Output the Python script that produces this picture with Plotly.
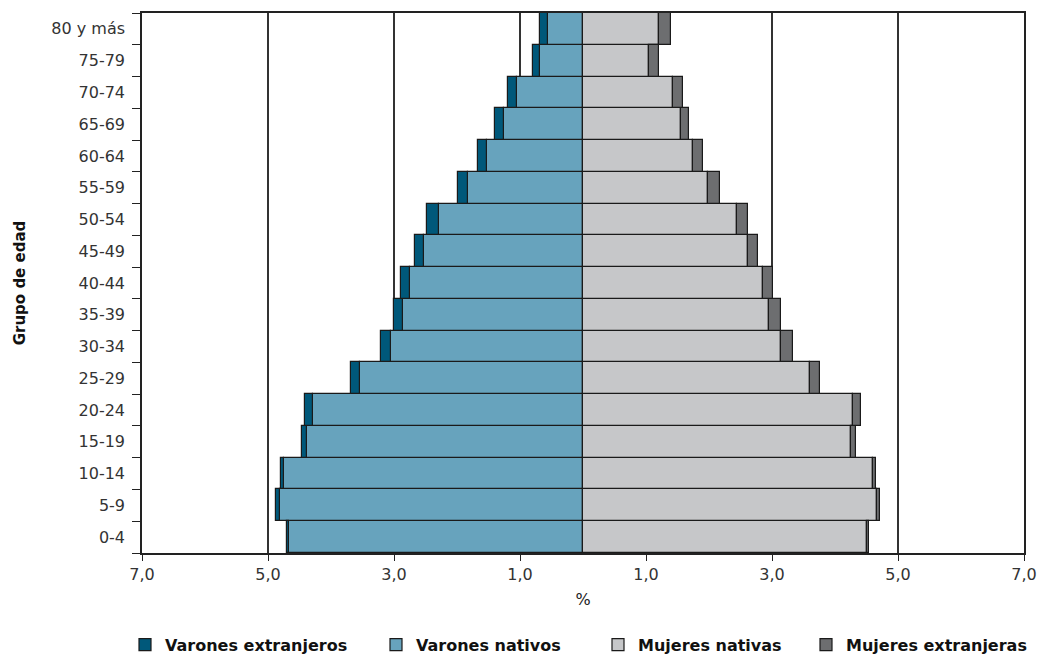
import plotly.graph_objects as go

grupos = ["0-4", "5-9", "10-14", "15-19", "20-24", "25-29", "30-34", "35-39",
          "40-44", "45-49", "50-54", "55-59", "60-64", "65-69", "70-74", "75-79", "80 y más"]

varones_nativos = [4.67, 4.81, 4.75, 4.38, 4.29, 3.54, 3.04, 2.86,
                   2.75, 2.52, 2.29, 1.82, 1.52, 1.25, 1.05, 0.69, 0.56]
varones_extranjeros = [0.03, 0.06, 0.05, 0.08, 0.12, 0.15, 0.17, 0.14,
                       0.14, 0.14, 0.19, 0.16, 0.14, 0.14, 0.14, 0.11, 0.12]
mujeres_nativas = [4.50, 4.67, 4.60, 4.26, 4.28, 3.60, 3.15, 2.96,
                   2.85, 2.62, 2.44, 1.98, 1.74, 1.55, 1.43, 1.05, 1.21]
mujeres_extranjeras = [0.04, 0.05, 0.05, 0.07, 0.14, 0.16, 0.18, 0.18,
                       0.16, 0.16, 0.18, 0.19, 0.16, 0.14, 0.15, 0.16, 0.19]

tick_vals = [-7, -5, -3, -1, 1, 3, 5, 7]
tick_text = ["7,0", "5,0", "3,0", "1,0", "1,0", "3,0", "5,0", "7,0"]

c_vext = "#00587a"
c_vnat = "#67a3bd"
c_mnat = "#c6c7c9"
c_mext = "#6d6e70"
line = dict(color="#1a1a1a", width=1.2)

fig = go.Figure()
fig.add_trace(go.Bar(y=grupos, x=[-v for v in varones_nativos], orientation="h",
                     name="Varones nativos", marker=dict(color=c_vnat, line=line),
                     legend="legend2"))
fig.add_trace(go.Bar(y=grupos, x=[-v for v in varones_extranjeros], orientation="h",
                     name="Varones extranjeros", marker=dict(color=c_vext, line=line),
                     legend="legend"))
fig.add_trace(go.Bar(y=grupos, x=mujeres_nativas, orientation="h",
                     name="Mujeres nativas", marker=dict(color=c_mnat, line=line),
                     legend="legend3"))
fig.add_trace(go.Bar(y=grupos, x=mujeres_extranjeras, orientation="h",
                     name="Mujeres extranjeras", marker=dict(color=c_mext, line=line),
                     legend="legend4"))

PL, PR = 142, 1024
def lx(px):
    return (px - PL) / (PR - PL)

leg_font = dict(family="DejaVu Sans", size=16, color="#111111", weight="bold")
def leg(px):
    return dict(orientation="h", x=lx(px), xanchor="left", y=-0.17, yanchor="middle",
                font=leg_font, bgcolor="rgba(0,0,0,0)", borderwidth=0)

tick_font = dict(family="DejaVu Sans", size=16, color="#333333")

fig.update_layout(
    width=1039, height=655,
    barmode="relative", bargap=0,
    plot_bgcolor="white", paper_bgcolor="white",
    margin=dict(l=142, r=15, t=13, b=102, autoexpand=False),
    font=dict(family="DejaVu Sans", color="#222222", size=16),
    xaxis=dict(
        range=[-7, 7], tickvals=tick_vals, ticktext=tick_text,
        showgrid=True, gridcolor="#333333", gridwidth=1.5, zeroline=False,
        showline=True, linecolor="#222222", linewidth=1.5, mirror=True,
        ticks="outside", ticklen=6, tickcolor="#222222",
        tickfont=tick_font,
        title=dict(text="%", font=dict(family="DejaVu Sans", size=16, color="#222222"), standoff=11),
    ),
    yaxis=dict(
        showgrid=False, zeroline=False,
        showline=True, linecolor="#222222", linewidth=1.5, mirror=True,
        ticks="outside", tickson="boundaries", ticklen=8, tickcolor="#222222",
        tickfont=tick_font, ticklabelstandoff=12,
        title=dict(text="Grupo de edad",
                   font=dict(family="DejaVu Sans", size=15, color="#111111", weight="bold"),
                   standoff=22),
    ),
    legend=leg(125),
    legend2=leg(376),
    legend3=leg(598),
    legend4=leg(806),
    showlegend=True,
)

fig.write_html(
    "out.html",
    config={"displayModeBar": False},
    post_script="document.body.style.margin='0';document.documentElement.style.overflow='hidden';",
)
